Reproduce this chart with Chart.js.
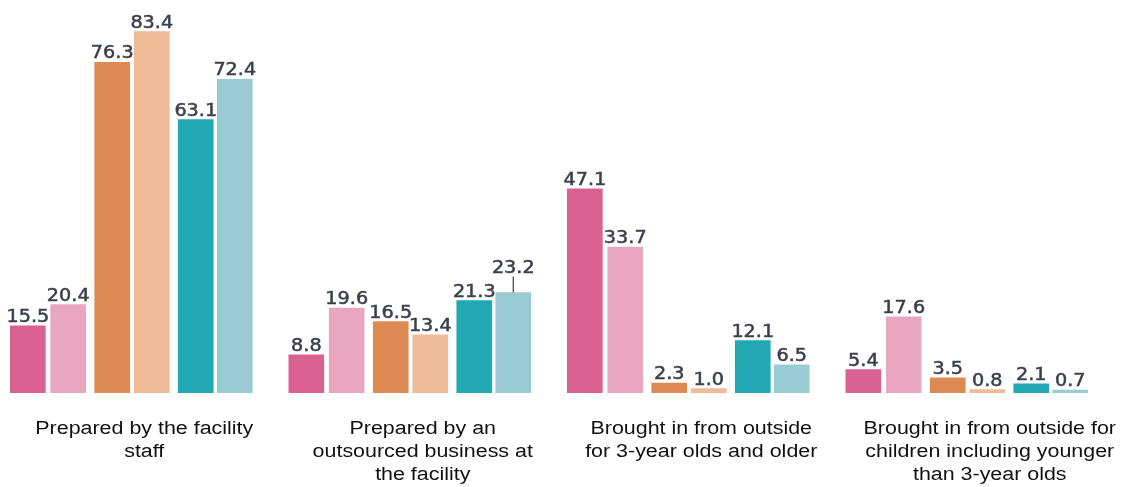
<!DOCTYPE html>
<html>
<head>
<meta charset="utf-8">
<script src="https://cdn.jsdelivr.net/npm/chart.js@4"></script>
<style>
  html, body { margin: 0; padding: 0; background: #fff; }
  canvas { display: block; }
</style>
</head>
<body>
<canvas id="mealChart" width="1124" height="487"></canvas>
<script>
// Category labels (multi-line)
const categories = [
  ['Prepared by the facility', 'staff'],
  ['Prepared by an', 'outsourced business at', 'the facility'],
  ['Brought in from outside', 'for 3-year olds and older'],
  ['Brought in from outside for', 'children including younger', 'than 3-year olds']
];

// Series values, one array per bar colour
const pinkDark    = [15.5, 8.8, 47.1, 5.4];
const pinkLight   = [20.4, 19.6, 33.7, 17.6];
const orangeDark  = [76.3, 16.5, 2.3, 3.5];
const orangeLight = [83.4, 13.4, 1.0, 0.8];
const tealDark    = [63.1, 21.3, 12.1, 2.1];
const tealLight   = [72.4, 23.2, 6.5, 0.7];

const seriesValues = [pinkDark, pinkLight, orangeDark, orangeLight, tealDark, tealLight];
const seriesColors = ['#d96290', '#e8a7bf', '#dc8a52', '#edbb96', '#22a8b2', '#98cbd4'];
// horizontal shift of each bar inside a category (in category units), bars come in pairs
const seriesShift = [-0.418, -0.273, -0.115, 0.027, 0.185, 0.325];

// Draws the value above each bar
const valueLabels = {
  id: 'valueLabels',
  afterDatasetsDraw(chart) {
    const ctx = chart.ctx;
    ctx.save();
    ctx.font = '17px "DejaVu Sans"';
    ctx.fillStyle = '#3b3f4c';
    ctx.strokeStyle = '#3b3f4c';
    ctx.textAlign = 'center';
    ctx.textBaseline = 'alphabetic';
    chart.data.datasets.forEach((ds, di) => {
      chart.getDatasetMeta(di).data.forEach((bar, i) => {
        const lift = (di === 5 && i === 1) ? 15 : 0; // 23.2 sits higher with a leader line
        if (lift) {
          ctx.lineWidth = 1.2;
          ctx.beginPath();
          ctx.moveTo(bar.x, bar.y);
          ctx.lineTo(bar.x, bar.y - lift - 1);
          ctx.stroke();
        }
        ctx.save();
        ctx.translate(bar.x, bar.y - 4 - lift);
        ctx.scale(1.13, 1);
        ctx.lineWidth = 0.5;
        ctx.fillText(ds.data[i].y.toFixed(1), 0, 0);
        ctx.strokeText(ds.data[i].y.toFixed(1), 0, 0);
        ctx.restore();
      });
    });
    ctx.restore();
  }
};

// Draws the category names under the groups (font is slightly stretched in the original)
const labelNudge = [0, 0, 0, 10];
const categoryLabels = {
  id: 'categoryLabels',
  afterDraw(chart) {
    const ctx = chart.ctx;
    const xScale = chart.scales.x;
    const base = chart.chartArea.bottom + 41;
    ctx.save();
    ctx.font = '18px "Liberation Sans", Arial';
    ctx.fillStyle = '#111';
    ctx.textAlign = 'center';
    ctx.textBaseline = 'alphabetic';
    categories.forEach((lines, i) => {
      const cx = xScale.getPixelForValue(i) + labelNudge[i];
      lines.forEach((line, k) => {
        ctx.save();
        ctx.translate(cx, base + k * 23);
        ctx.scale(1.19, 1);
        ctx.fillText(line, 0, 0);
        ctx.restore();
      });
    });
    ctx.restore();
  }
};

function renderChart() {
  const ctx = document.getElementById('mealChart').getContext('2d');
  new Chart(ctx, {
    type: 'bar',
    data: {
      datasets: seriesValues.map((vals, s) => ({
        data: vals.map((v, i) => ({ x: i + seriesShift[s], y: v })),
        backgroundColor: seriesColors[s],
        borderWidth: 0,
        grouped: false,
        barPercentage: 1,
        categoryPercentage: 1,
        maxBarThickness: 35
      }))
    },
    options: {
      responsive: false,
      animation: false,
      devicePixelRatio: 1,
      layout: { padding: { left: 5, right: 5, top: 3, bottom: 94 } },
      plugins: {
        legend: { display: false },
        tooltip: { enabled: false }
      },
      scales: {
        x: {
          type: 'linear',
          display: false,
          offset: false,
          min: -0.5,
          max: 3.5
        },
        y: {
          display: false,
          min: 0,
          max: 90
        }
      }
    },
    plugins: [valueLabels, categoryLabels]
  });
}

window.onload = renderChart;
</script>
</body>
</html>
